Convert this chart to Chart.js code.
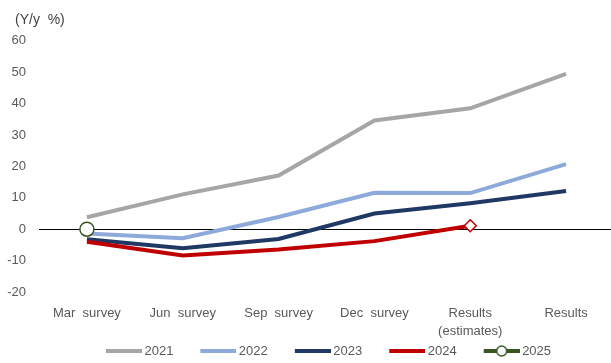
<!DOCTYPE html>
<html>
<head>
<meta charset="utf-8">
<script src="https://cdn.jsdelivr.net/npm/chart.js@4.4.1/dist/chart.umd.min.js"></script>
<style>
  html, body { margin: 0; padding: 0; background: #fff; }
  #wrap { width: 611px; height: 363px; position: relative; }
</style>
</head>
<body>
<div id="wrap"><canvas id="c" width="611" height="363"></canvas></div>
<script>
const categories = ['Mar  survey', 'Jun  survey', 'Sep  survey', 'Dec  survey', ['Results', '(estimates)'], 'Results'];
const yTicks = [-20, -10, 0, 10, 20, 30, 40, 50, 60];
const s2021 = [3.8, 11.1, 17.1, 34.6, 38.5, 49.5];
const s2022 = [-1.4, -2.9, 3.9, 11.6, 11.5, 20.7];
const s2023 = [-3.2, -6.1, -3.1, 5.0, 8.3, 12.2];
const s2024 = [-4.0, -8.4, -6.5, -3.8, 1.1, null];
const s2025 = [0, null, null, null, null, null];
const seriesNames = ['2021', '2022', '2023', '2024', '2025'];
const seriesColors = ['#a6a6a6', '#8eaadb', '#203864', '#c00000', '#385723'];
const unitLabel = '(Y/y  %)';

const seriesData = [s2021, s2022, s2023, s2024, s2025];

function legendImage(color, withCircle) {
  const cv = document.createElement('canvas');
  cv.width = 62; cv.height = 14;
  const g = cv.getContext('2d');
  g.strokeStyle = color; g.lineWidth = 4; g.lineCap = 'butt';
  g.beginPath(); g.moveTo(26, 7); g.lineTo(62, 7); g.stroke();
  if (withCircle) {
    g.fillStyle = '#ffffff'; g.lineWidth = 1.5;
    g.beginPath(); g.arc(44, 7, 5, 0, Math.PI * 2); g.fill(); g.stroke();
  }
  return cv;
}

const datasets = seriesData.map((d, i) => {
  const isLast = i === 4;
  const is2024 = i === 3;
  return {
    label: seriesNames[i],
    data: d,
    borderColor: seriesColors[i],
    backgroundColor: '#ffffff',
    borderWidth: 4,
    tension: 0,
    order: 5 - i,
    pointRadius: isLast ? 7 : (is2024 ? d.map((v, j) => j === 4 ? 6 : 0) : 0),
    pointStyle: is2024 ? 'rectRot' : 'circle',
    pointBorderWidth: 1.5,
    pointBorderColor: seriesColors[i],
    pointBackgroundColor: '#ffffff',
    pointHoverRadius: 0,
    spanGaps: false
  };
});

const FONT = "'Liberation Sans', Arial, sans-serif";

const shiftBoxes = {
  id: 'shiftBoxes',
  afterLayout(chart) {
    const l = chart.legend;
    if (l) { l.left += 12; l.right += 12; }
    const t = chart.titleBlock;
    if (t) { t.left += 15; t.right += 15; }
    const x = chart.scales.x;
    if (x) {
      x.right += 3; x.width += 3; x.configure();
      chart.chartArea.right += 3; chart.chartArea.width += 3;
    }
  }
};

new Chart(document.getElementById('c'), {
  type: 'line',
  data: { labels: categories, datasets },
  plugins: [shiftBoxes],
  options: {
    responsive: false,
    animation: false,
    devicePixelRatio: 1,
    layout: { autoPadding: false, padding: { left: 0, right: 0, top: 0, bottom: -4.5 } },
    plugins: {
      tooltip: { enabled: false },
      title: {
        display: true,
        text: unitLabel,
        align: 'start',
        color: '#404040',
        font: { family: FONT, size: 14, weight: 'normal' },
        padding: { top: 12, bottom: 12 }
      },
      legend: {
        position: 'bottom',
        labels: {
          usePointStyle: true,
          pointStyleWidth: 54,
          boxHeight: 13,
          padding: 5,
          color: '#595959',
          font: { family: FONT, size: 13 },
          generateLabels: (chart) => chart.data.datasets.map((ds, i) => ({
            text: ds.label,
            pointStyle: legendImage(ds.borderColor, i === 4),
            fillStyle: ds.borderColor,
            strokeStyle: ds.borderColor,
            lineWidth: 0,
            fontColor: '#595959',
            hidden: false,
            datasetIndex: i
          }))
        }
      }
    },
    scales: {
      x: {
        offset: true,
        grid: { display: false, drawTicks: false },
        border: { display: false },
        afterFit: (scale) => { scale.height = 47.5; scale.paddingLeft = 0; scale.paddingRight = 0; },
        ticks: {
          color: '#595959',
          font: { family: FONT, size: 13, lineHeight: 1.4 },
          padding: 12,
          maxRotation: 0,
          autoSkip: false
        }
      },
      y: {
        min: -20,
        max: 60,
        afterBuildTicks: (scale) => { scale.ticks = yTicks.map(v => ({ value: v })); },
        afterFit: (scale) => { scale.width = 39; },
        grid: {
          drawTicks: false,
          lineWidth: 1,
          color: (ctx) => (ctx.tick && ctx.tick.value === 0) ? '#000000' : 'rgba(0,0,0,0)'
        },
        border: { display: false },
        ticks: {
          color: '#595959',
          font: { family: FONT, size: 13 },
          padding: 13
        }
      }
    }
  }
});
</script>
</body>
</html>
